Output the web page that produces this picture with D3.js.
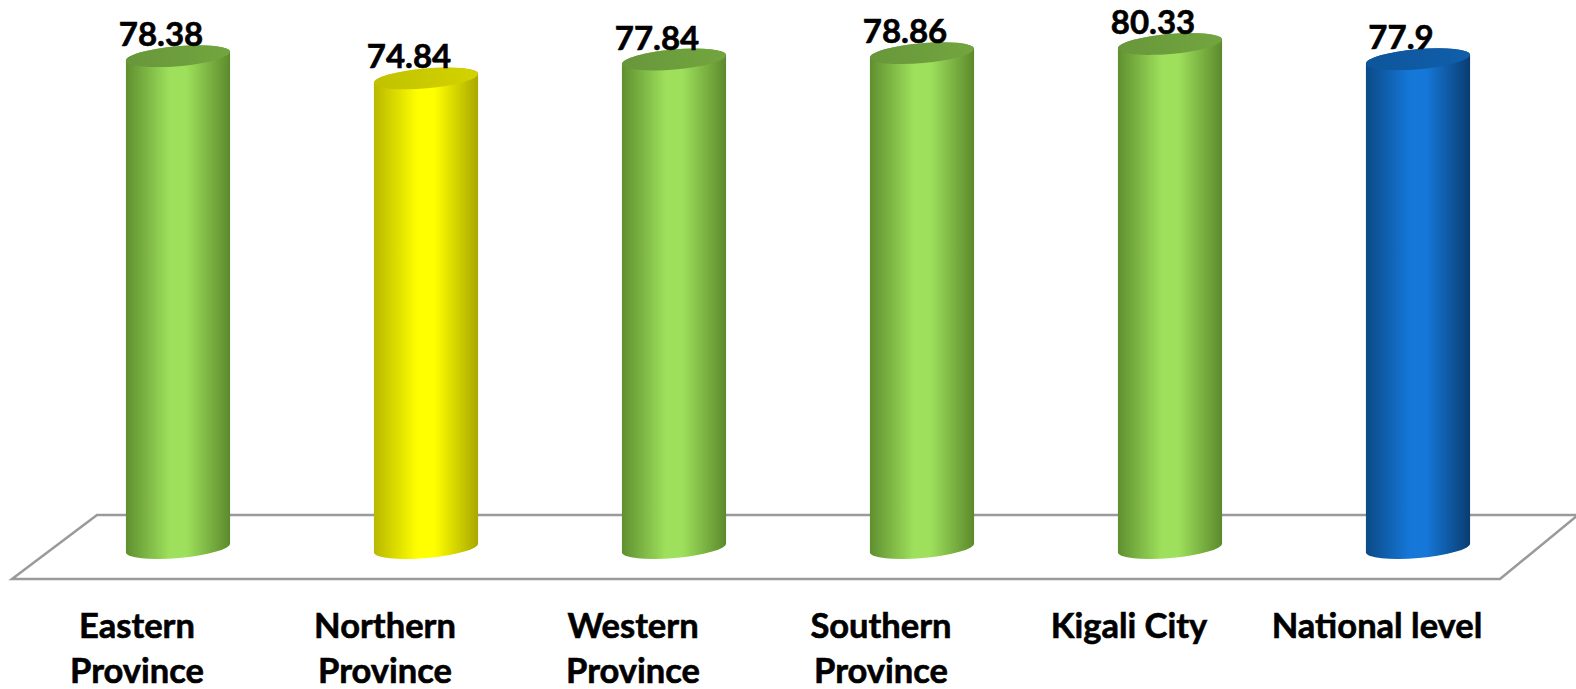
<!DOCTYPE html>
<html><head><meta charset="utf-8">
<script src="https://cdn.jsdelivr.net/npm/d3@7"></script>
<style>
html,body{margin:0;padding:0;background:#fff;}
svg{display:block;}
text{font-family:Lato,"Open Sans",sans-serif;font-weight:bold;fill:#000;stroke:#000;stroke-width:0.6px;}
</style></head>
<body>
<svg id="chart" width="1576" height="689"></svg>
<script>
const categories = [["Eastern","Province"],["Northern","Province"],["Western","Province"],["Southern","Province"],["Kigali City"],["National level"]];
const values = [78.38, 74.84, 77.84, 78.86, 80.33, 77.9];
const valueLabels = ["78.38","74.84","77.84","78.86","80.33","77.9"];
const colorKeys = ["green","yellow","green","green","green","blue"];

const palettes = {
  green:  {edgeL:"#5f8f2f", mid:"#9ee05c", edgeR:"#5c8a2c", top:"#6e9f3d"},
  yellow: {edgeL:"#b8b800", mid:"#ffff00", edgeR:"#a8a800", top:"#cccc00"},
  blue:   {edgeL:"#0b4a86", mid:"#1577d8", edgeR:"#0a3c70", top:"#0f5ba4"}
};

const svg = d3.select("#chart");
const W = 1576, H = 689;
const ids = categories.map((c,i)=>"c"+i);

const x = d3.scaleBand().domain(ids).range([54, 1542]).paddingInner(0.58).paddingOuter(0.29);
const y = d3.scaleLinear().domain([0, 80]).range([548, 46]);

const defs = svg.append("defs");
Object.entries(palettes).forEach(([k,p])=>{
  const g = defs.append("linearGradient").attr("id","grad-"+k).attr("x1","0").attr("x2","1").attr("y1","0").attr("y2","0");
  g.append("stop").attr("offset","0%").attr("stop-color",p.edgeL);
  g.append("stop").attr("offset","42%").attr("stop-color",p.mid);
  g.append("stop").attr("offset","58%").attr("stop-color",p.mid);
  g.append("stop").attr("offset","100%").attr("stop-color",p.edgeR);
  const t = defs.append("linearGradient").attr("id","top-"+k).attr("x1","0").attr("x2","1").attr("y1","0").attr("y2","0");
  t.append("stop").attr("offset","0%").attr("stop-color",d3.color(p.top).darker(0.15));
  t.append("stop").attr("offset","100%").attr("stop-color",d3.color(p.top).brighter(0.1));
});

// floor
const y0 = y(0);
const floorBack = y0 - 33, floorFront = y0 + 31;
const fl = [[x.range()[0]+43, floorBack],[W+2, floorBack],[x.range()[1]-42, floorFront],[x.range()[0]-42, floorFront]];
svg.append("path")
  .attr("d", "M" + fl.map(p=>p.join(",")).join("L") + "Z")
  .attr("fill","#fff").attr("stroke","#9a9a9a").attr("stroke-width",2.5);

// cylinders
const rx = x.bandwidth()/2, ry = 10, ang = -5;
const d = rx*Math.sin(Math.abs(ang)*Math.PI/180);
const bars = svg.append("g").selectAll("g").data(values).join("g");
bars.append("path")
  .attr("d",(v,i)=>{
    const x0 = x(ids[i]), x1 = x0 + x.bandwidth();
    const yt = y(v), yb = y(0);
    return `M${x0},${yt+d} L${x0},${yb+d} A${rx},${ry} ${ang} 0 0 ${x1},${yb-d} L${x1},${yt-d} A${rx},${ry} ${ang} 0 0 ${x0},${yt+d} Z`;
  })
  .attr("fill",(v,i)=>`url(#grad-${colorKeys[i]})`);
bars.append("ellipse")
  .attr("cx",(v,i)=>x(ids[i])+rx)
  .attr("cy",v=>y(v))
  .attr("rx",rx).attr("ry",ry)
  .attr("transform",(v,i)=>`rotate(${ang},${x(ids[i])+rx},${y(v)})`)
  .attr("fill",(v,i)=>`url(#top-${colorKeys[i]})`);

// value labels
svg.append("g").selectAll("text").data(values).join("text")
  .attr("x",(v,i)=>x(ids[i])+rx-17)
  .attr("y",v=>y(v)-10)
  .attr("text-anchor","middle")
  .attr("font-size",33)
  .text((v,i)=>valueLabels[i]);

// category labels
const cat = svg.append("g").selectAll("text").data(categories).join("text")
  .attr("x",(c,i)=>x(ids[i])+rx-41)
  .attr("y",638)
  .attr("text-anchor","middle")
  .attr("font-size",34.5);
cat.selectAll("tspan").data((c,i)=>c.map(s=>({s,i}))).join("tspan")
  .attr("x",o=>x(ids[o.i])+rx-41)
  .attr("dy",(o,j)=>j===0?0:45)
  .text(o=>o.s);
</script>
</body></html>
